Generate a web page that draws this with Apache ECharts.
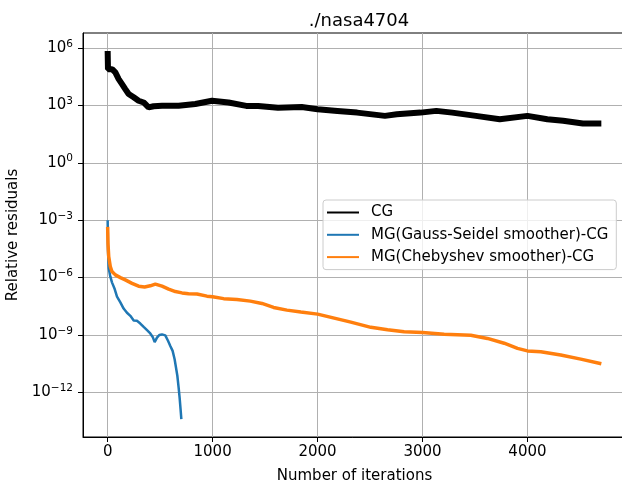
<!DOCTYPE html>
<html>
<head>
<meta charset="utf-8">
<script src="https://cdn.jsdelivr.net/npm/echarts@6/dist/echarts.min.js"></script>
<style>html,body{margin:0;padding:0;background:#fff}#c{width:622px;height:486px}</style>
</head>
<body>
<div id="c"></div>
<script>
// Iteration numbers and log10 of relative residual
var cgIter = [0, 3, 42, 73, 105, 137, 168, 200, 248, 295, 343, 390, 438, 518, 676, 835, 994, 1152, 1321, 1434, 1623, 1849, 2000, 2189, 2377, 2642, 2755, 2981, 3132, 3283, 3509, 3736, 4000, 4189, 4340, 4528, 4704];
var cgLog  = [5.84, 4.89, 4.89, 4.72, 4.37, 4.11, 3.85, 3.59, 3.42, 3.24, 3.15, 2.89, 2.95, 2.98, 2.98, 3.07, 3.24, 3.15, 2.97, 2.97, 2.88, 2.91, 2.80, 2.71, 2.62, 2.45, 2.53, 2.62, 2.71, 2.62, 2.45, 2.27, 2.45, 2.27, 2.19, 2.05, 2.05];

var gsIter = [0, 3, 10, 25, 41, 67, 89, 121, 152, 184, 216, 248, 279, 311, 343, 375, 406, 429, 448, 470, 492, 518, 549, 575, 597, 619, 638, 651, 664, 676, 686, 695, 702];
var gsLog  = [-3.0, -4.56, -5.5, -5.94, -6.25, -6.6, -7.0, -7.3, -7.62, -7.84, -8.0, -8.24, -8.26, -8.4, -8.58, -8.75, -8.92, -9.1, -9.37, -9.14, -9.0, -8.97, -9.02, -9.3, -9.57, -9.83, -10.27, -10.7, -11.13, -11.74, -12.3, -12.9, -13.4];

var chIter = [0, 3, 10, 25, 41, 73, 121, 168, 232, 295, 352, 406, 454, 518, 581, 645, 708, 771, 851, 946, 1000, 1105, 1232, 1359, 1470, 1581, 1708, 1841, 2000, 2159, 2317, 2508, 2667, 2825, 3000, 3206, 3460, 3619, 3778, 3905, 4000, 4127, 4317, 4508, 4704];
var chLog  = [-3.35, -4.21, -4.9, -5.42, -5.68, -5.86, -6.0, -6.12, -6.3, -6.45, -6.49, -6.43, -6.34, -6.45, -6.6, -6.73, -6.8, -6.84, -6.86, -6.97, -7.0, -7.1, -7.14, -7.23, -7.35, -7.56, -7.7, -7.8, -7.91, -8.12, -8.33, -8.6, -8.73, -8.83, -8.87, -8.96, -9.01, -9.18, -9.43, -9.7, -9.83, -9.88, -10.05, -10.26, -10.5];

var xTicks = [0, 1000, 2000, 3000, 4000];
var yTickExp = [-12, -9, -6, -3, 0, 3, 6];

var seriesNames = ['CG', 'MG(Gauss-Seidel smoother)-CG', 'MG(Chebyshev smoother)-CG'];
var seriesColors = ['#000000', '#1f77b4', '#ff7f0e'];

function pairs(xs, es) { return xs.map(function (x, i) { return [x, Math.pow(10, es[i])]; }); }

var FONT = 'DejaVu Sans';
var FS = 15;
var chart = echarts.init(document.getElementById('c'), null, {renderer: 'canvas'});
var yVals = yTickExp.map(function (e) { return Math.pow(10, e); });

chart.setOption({
  animation: false,
  backgroundColor: '#ffffff',
  textStyle: {fontFamily: FONT, color: '#000'},
  title: {
    text: './nasa4704', left: 354, top: 7, textAlign: 'center',
    textStyle: {fontFamily: FONT, fontSize: 18, fontWeight: 'normal', color: '#000'}
  },
  grid: {left: 83, right: -4, top: 33, bottom: 49, outerBoundsMode: 'none', containLabel: false,
         show: true, borderColor: '#000', borderWidth: 1, backgroundColor: 'transparent'},
  legend: {
    orient: 'vertical', left: 323, top: 200,
    data: seriesNames.map(function (n) { return {name: n, icon: 'rect'}; }),
    itemWidth: 32, itemHeight: 2, itemGap: 7.3,
    padding: [5, 8, 5, 4],
    backgroundColor: 'rgba(255,255,255,0.8)',
    borderColor: '#cccccc', borderWidth: 1, borderRadius: 3,
    textStyle: {fontFamily: FONT, fontSize: FS, color: '#000', padding: [0, 0, 0, 7], lineHeight: 15}
  },
  xAxis: {
    type: 'value', min: -235, max: 4939,
    name: 'Number of iterations', nameLocation: 'middle', nameGap: 32,
    nameTextStyle: {fontFamily: FONT, fontSize: FS, color: '#000'},
    axisLine: {show: true, onZero: false, lineStyle: {color: '#000', width: 1}},
    axisTick: {show: true, length: 5, customValues: xTicks, lineStyle: {color: '#000', width: 1}},
    axisLabel: {customValues: xTicks, margin: 8, fontFamily: FONT, fontSize: FS, color: '#000',
                formatter: function (v) { return String(v); }},
    splitLine: {show: true, customValues: xTicks, lineStyle: {color: '#b0b0b0', width: 1}}
  },
  yAxis: {
    type: 'log', logBase: 10, min: Math.pow(10, -14.33), max: Math.pow(10, 6.78),
    name: 'Relative residuals', nameLocation: 'middle', nameGap: 55, nameRotate: 90,
    nameTextStyle: {fontFamily: FONT, fontSize: FS, color: '#000'},
    axisLine: {show: true, onZero: false, lineStyle: {color: '#000', width: 1}},
    axisTick: {show: true, length: 5, customValues: yVals, lineStyle: {color: '#000', width: 1}},
    axisLabel: {
      customValues: yVals, margin: 10,
      formatter: function (v) {
        var e = Math.round(Math.log10(v));
        var s = e < 0 ? '\u2212' + (-e) : String(e);
        return '{b|10}{s|' + s + '}';
      },
      rich: {
        b: {fontFamily: FONT, fontSize: FS, color: '#000'},
        s: {fontFamily: FONT, fontSize: 10.5, color: '#000', padding: [0, 0, 8, 0]}
      }
    },
    splitLine: {show: true, customValues: yVals, lineStyle: {color: '#b0b0b0', width: 1}}
  },
  series: [
    {name: seriesNames[0], type: 'line', data: pairs(cgIter, cgLog), symbol: 'none', lineStyle: {color: seriesColors[0], width: 6}, itemStyle: {color: seriesColors[0]}},
    {name: seriesNames[1], type: 'line', data: pairs(gsIter, gsLog), symbol: 'none', lineStyle: {color: seriesColors[1], width: 2.5}, itemStyle: {color: seriesColors[1]}},
    {name: seriesNames[2], type: 'line', data: pairs(chIter, chLog), symbol: 'none', lineStyle: {color: seriesColors[2], width: 3.5}, itemStyle: {color: seriesColors[2]}}
  ]
});
</script>
</body>
</html>
